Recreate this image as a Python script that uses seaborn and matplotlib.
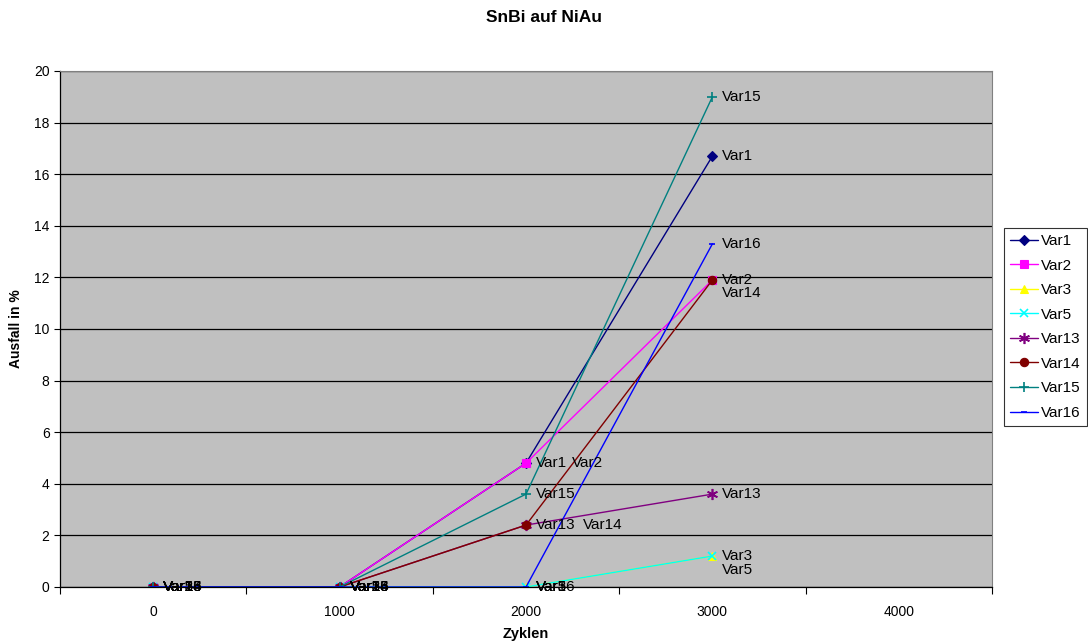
import matplotlib
matplotlib.use("Agg")
import matplotlib.pyplot as plt
import seaborn as sns
import pandas as pd
from matplotlib.ticker import MultipleLocator, FixedLocator

# Failure rate (%) after thermal cycles, SnBi solder on NiAu finish
cycles = [0, 1000, 2000, 3000]
var1 = [0, 0, 4.8, 16.7]
var2 = [0, 0, 4.8, 11.9]
var3 = [0, 0, 0, 1.2]
var5 = [0, 0, 0, 1.2]
var13 = [0, 0, 2.4, 3.6]
var14 = [0, 0, 2.4, 11.9]
var15 = [0, 0, 3.6, 19.0]
var16 = [0, 0, 0, 13.3]

series_names = ["Var1", "Var2", "Var3", "Var5", "Var13", "Var14", "Var15", "Var16"]
series_values = [var1, var2, var3, var5, var13, var14, var15, var16]

colors = {
    "Var1": "#000080", "Var2": "#FF00FF", "Var3": "#FFFF00", "Var5": "#00FFFF",
    "Var13": "#800080", "Var14": "#800000", "Var15": "#008080", "Var16": "#0000FF",
}
markers = {
    "Var1": "D", "Var2": "s", "Var3": "^", "Var5": "x",
    "Var13": (6, 2, 0), "Var14": "o", "Var15": "+", "Var16": "_",
}
marker_sizes = {
    "Var1": 5, "Var2": 6, "Var3": 6, "Var5": 6,
    "Var13": 8, "Var14": 6, "Var15": 7, "Var16": 5,
}

rows = []
for name, vals in zip(series_names, series_values):
    for c, v in zip(cycles, vals):
        rows.append({"Zyklen": c, "Ausfall": v, "Serie": name})
df = pd.DataFrame(rows)

sns.set_style("ticks")
plt.rcParams["font.family"] = ["Liberation Sans", "DejaVu Sans"]
plt.rcParams.update({
    "text.color": "black", "axes.labelcolor": "black",
    "xtick.color": "black", "ytick.color": "black",
})

fig = plt.figure(figsize=(10.88, 6.44), dpi=100)
ax = fig.add_axes([60 / 1088, 57 / 644, 932 / 1088, 516 / 644])
ax.set_facecolor("#C0C0C0")

for name in series_names:
    sub = df[df["Serie"] == name]
    sns.lineplot(
        data=sub, x="Zyklen", y="Ausfall", color=colors[name],
        marker=markers[name], markersize=marker_sizes[name],
        markeredgecolor=colors[name], markerfacecolor=colors[name],
        markeredgewidth=1.2 if name in ("Var5", "Var13", "Var15", "Var16") else 0.8,
        linewidth=1.0, ax=ax, label=name, legend=False,
    )

# point labels: default offset right of the point, a few moved to avoid clutter
shift = {
    ("Var2", 2000): (46, 0), ("Var14", 2000): (57, 0),
    ("Var14", 3000): (10, -13), ("Var5", 3000): (10, -14),
}
for name, vals in zip(series_names, series_values):
    for c, v in zip(cycles, vals):
        dx, dy = shift.get((name, c), (10, 0))
        ax.annotate(name, (c, v), xytext=(dx, dy), textcoords="offset pixels",
                    ha="left", va="center", fontsize=11, color="black")

ax.set_xlim(-500, 4500)
ax.set_ylim(0, 20)
ax.yaxis.set_major_locator(MultipleLocator(2))
ax.grid(axis="y", color="black", linewidth=0.9)
ax.set_axisbelow(True)

ax.xaxis.set_major_locator(FixedLocator([0, 1000, 2000, 3000, 4000]))
ax.xaxis.set_minor_locator(FixedLocator([-500, 500, 1500, 2500, 3500, 4500]))
ax.tick_params(axis="x", which="major", length=0, labelsize=10, pad=13)
ax.tick_params(axis="x", which="minor", length=5, width=0.8, color="black")
ax.tick_params(axis="y", length=4, width=0.8, labelsize=10, color="black")

for side in ("top", "right"):
    ax.spines[side].set_visible(True)
    ax.spines[side].set_color("#808080")
for side in ("left", "bottom"):
    ax.spines[side].set_color("black")
    ax.spines[side].set_linewidth(0.9)

ax.set_xlabel("Zyklen", fontsize=10.5, fontweight="bold", labelpad=6)
ax.set_ylabel("Ausfall in %", fontsize=10, fontweight="bold", labelpad=8)
fig.text(0.5, 1 - 18 / 644, "SnBi auf NiAu", fontsize=12.5, fontweight="bold",
         ha="center", va="center")

handles, labels = ax.get_legend_handles_labels()
leg = fig.legend(handles, labels, loc="upper left",
                 bbox_to_anchor=(1004 / 1088, 1 - 228 / 644),
                 borderaxespad=0, frameon=True, fancybox=False,
                 edgecolor="black", fontsize=11, handlelength=1.85,
                 labelspacing=0.69, borderpad=0.4, handletextpad=0.2)
leg.get_frame().set_linewidth(0.8)

fig.savefig("out.png", dpi=100)
